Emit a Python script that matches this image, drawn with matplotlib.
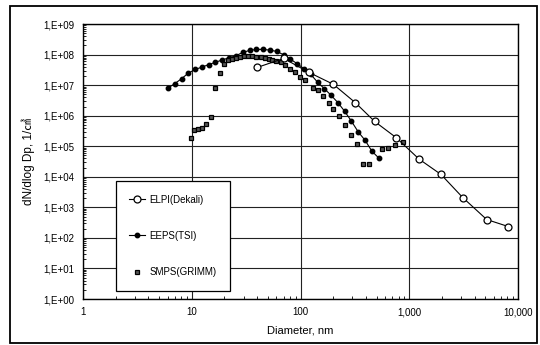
import numpy as np
import matplotlib
matplotlib.use('Agg')
import matplotlib.pyplot as plt
from matplotlib.ticker import FixedLocator, FixedFormatter, LogLocator, NullFormatter
from matplotlib.patches import Rectangle

plt.rcParams['font.family'] = ['Liberation Sans', 'Noto Sans CJK KR', 'DejaVu Sans']

# ELPI (Dekati) - open circles with line
elpiD = [40, 70, 120, 200, 320, 480, 760, 1230, 1960, 3100, 5150, 8150]
elpiN = [3.8e7, 7.5e7, 2.6e7, 1.07e7, 2.65e6, 6.5e5, 1.9e5, 3.8e4, 1.19e4, 2.1e3, 400, 235]

# EEPS (TSI) - filled circles with line
eepsD = [6.04, 6.98, 8.06, 9.31, 10.8, 12.4, 14.3, 16.5, 19.1, 22.1, 25.5, 29.4,
         34.0, 39.2, 45.3, 52.3, 60.4, 69.8, 80.6, 93.1, 107.5, 124.1, 143.3, 165.5,
         191.1, 220.7, 254.8, 294.3, 339.8, 392.4, 453.2, 523.3]
eepsN = [8.0e6, 1.12e7, 1.63e7, 2.48e7, 3.28e7, 3.9e7, 4.7e7, 5.6e7, 6.7e7, 7.9e7,
         9.2e7, 1.18e8, 1.37e8, 1.48e8, 1.48e8, 1.40e8, 1.27e8, 9.9e7, 7.1e7, 5.05e7,
         3.46e7, 2.25e7, 1.26e7, 7.7e6, 4.65e6, 2.68e6, 1.39e6, 6.56e5, 2.93e5, 1.57e5,
         6.9e4, 4.15e4]

# SMPS (GRIMM) - squares, no line
smpsD = [9.79, 10.5, 11.5, 12.5, 13.6, 15.1, 16.5, 18.1, 19.8, 21.4, 23.3, 25.4,
         27.8, 30.3, 33.0, 36.0, 39.3, 42.9, 46.7, 51.0, 55.0, 59.6, 65.9, 72.2,
         80.2, 89.2, 99.2, 111, 130, 146, 162, 184, 201, 228, 257, 292, 330, 374,
         428, 560, 644, 742, 873]
smpsN = [1.92e5, 3.5e5, 3.6e5, 4.1e5, 5.4e5, 9.1e5, 8.0e6, 2.56e7, 4.8e7, 6.5e7,
         7.3e7, 7.9e7, 8.4e7, 8.7e7, 8.7e7, 8.7e7, 8.5e7, 8.1e7, 7.5e7, 7.0e7,
         6.5e7, 6.1e7, 5.7e7, 4.7e7, 3.3e7, 2.7e7, 1.84e7, 1.44e7, 8.0e6, 6.8e6,
         4.4e6, 2.7e6, 1.7e6, 9.5e5, 4.9e5, 2.4e5, 1.16e5, 2.6e4, 2.6e4, 8.4e4,
         9.1e4, 1.08e5, 1.38e5]

xTicks = [1, 10, 100, 1000, 10000]
xLabels = ['1', '10', '100', '1,000', '10,000']
yTicks = [1e0, 1e1, 1e2, 1e3, 1e4, 1e5, 1e6, 1e7, 1e8, 1e9]
yLabels = ['1,E+00', '1,E+01', '1,E+02', '1,E+03', '1,E+04',
           '1,E+05', '1,E+06', '1,E+07', '1,E+08', '1,E+09']

fig = plt.figure(figsize=(5.4, 3.45), dpi=100)
ax = fig.add_axes([0.1537, 0.1333, 0.8056, 0.797])

ax.plot(elpiD, elpiN, color='black', lw=0.8, marker='o', ms=5.0,
        mfc='white', mec='black', mew=0.9, label='ELPI(Dekali)', zorder=4)
ax.plot(eepsD, eepsN, color='black', lw=0.8, marker='o', ms=3.2,
        mfc='black', mec='black', label='EEPS(TSI)', zorder=3)
ax.plot(smpsD, smpsN, ls='none', marker='s', ms=3.2, mfc='#555555',
        mec='black', mew=0.9, label='SMPS(GRIMM)', zorder=3)

ax.set_xscale('log')
ax.set_yscale('log')
ax.set_xlim(1, 10000)
ax.set_ylim(1, 1e9)

ax.xaxis.set_major_locator(FixedLocator(xTicks))
ax.xaxis.set_major_formatter(FixedFormatter(xLabels))
ax.yaxis.set_major_locator(FixedLocator(yTicks))
ax.yaxis.set_major_formatter(FixedFormatter(yLabels))
ax.xaxis.set_minor_locator(LogLocator(base=10, subs=np.arange(2, 10), numticks=20))
ax.xaxis.set_minor_formatter(NullFormatter())
ax.yaxis.set_minor_locator(LogLocator(base=10, subs=np.arange(2, 10), numticks=20))
ax.yaxis.set_minor_formatter(NullFormatter())
ax.tick_params(which='major', direction='in', length=0, labelsize=7, pad=6)
ax.tick_params(which='minor', direction='in', length=2.5, width=0.6)

ax.grid(True, which='major', color='#222222', lw=0.8)
for s in ax.spines.values():
	s.set_linewidth(1.0)
	s.set_color('black')

ax.set_xlabel('Diameter, nm', fontsize=8, labelpad=6)
ax.set_ylabel('dN/dlog Dp, 1/㎤', fontsize=8.5, labelpad=6)

# legend box sits in the lower left corner
leg = ax.legend(loc='lower left', bbox_to_anchor=(0.075, 0.03), borderaxespad=0,
                fontsize=7, frameon=True, fancybox=False, edgecolor='black',
                labelspacing=2.7, borderpad=1.4, handlelength=1.6, handletextpad=0.5)
leg.get_frame().set_linewidth(0.9)
leg.get_frame().set_alpha(1)

# outer border of the chart area
fig.patches.append(Rectangle((10 / 540, 2 / 345), 527 / 540, 337.5 / 345,
                             transform=fig.transFigure, fill=False,
                             edgecolor='black', lw=1.3))

fig.savefig('out.png', dpi=100)
